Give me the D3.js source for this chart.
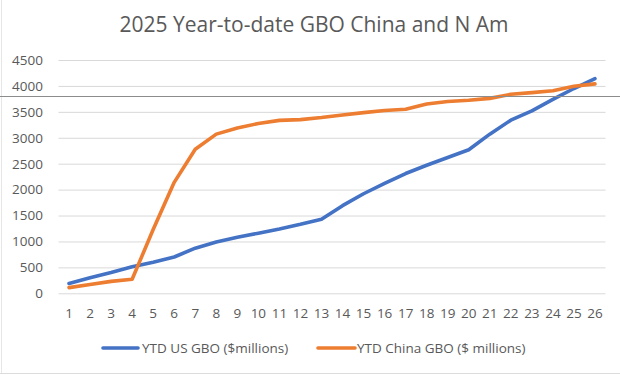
<!DOCTYPE html>
<html>
<head>
<meta charset="utf-8">
<script src="https://cdn.jsdelivr.net/npm/d3@7"></script>
<style>
  body { margin: 0; background: #fff; }
  text { font-family: "Open Sans", sans-serif; fill: #595959; }
</style>
</head>
<body>
<div id="chart"></div>
<script>
var svgWidth = 620;
var svgHeight = 375;

// chart data
var weeks = d3.range(1, 27);
var usGbo = [190, 300, 400, 510, 600, 700, 870, 990, 1080, 1160, 1240, 1330, 1430,
  1690, 1920, 2120, 2310, 2470, 2620, 2770, 3070, 3340, 3520, 3740, 3950, 4140];
var chinaGbo = [110, 170, 230, 270, 1230, 2140, 2780, 3070, 3190, 3275, 3335, 3350, 3390,
  3440, 3485, 3525, 3550, 3650, 3700, 3725, 3760, 3838, 3870, 3908, 3995, 4040];
var yTicks = [0, 500, 1000, 1500, 2000, 2500, 3000, 3500, 4000, 4500];
var seriesNames = ["YTD US GBO ($millions)", "YTD China GBO ($ millions)"];
var colors = ["#4472C4", "#ED7D31"];

var plot = { left: 58.5, right: 605.5, top: 60, bottom: 293.3 };

var svg = d3.select("#chart")
  .append("svg")
  .attr("width", svgWidth)
  .attr("height", svgHeight);

// faint frame edges
svg.append("line")
  .attr("x1", 1.5).attr("x2", 1.5).attr("y1", 0).attr("y2", 373)
  .attr("stroke", "#e6e6e6");
svg.append("line")
  .attr("x1", 0).attr("x2", svgWidth).attr("y1", 373.5).attr("y2", 373.5)
  .attr("stroke", "#dcdcdc");

var xScale = d3.scaleBand()
  .domain(weeks)
  .range([plot.left, plot.right]);

var yScale = d3.scaleLinear()
  .domain([0, 4500])
  .range([plot.bottom, plot.top]);

// y axis with gridlines
var yAxis = svg.append("g")
  .attr("transform", `translate(${plot.left}, 0)`)
  .call(d3.axisLeft(yScale)
    .tickValues(yTicks)
    .tickFormat(d3.format("d"))
    .tickSize(-(plot.right - plot.left))
    .tickPadding(15.5));
yAxis.select(".domain").remove();
yAxis.selectAll("line").attr("stroke", "#d9d9d9");
yAxis.selectAll("text")
  .style("font-size", "13.5px")
  .attr("fill", "#595959");

// x axis labels only
var xAxis = svg.append("g")
  .attr("transform", `translate(0, ${plot.bottom})`)
  .call(d3.axisBottom(xScale).tickSize(0).tickPadding(15));
xAxis.select(".domain").remove();
xAxis.selectAll("text")
  .style("font-size", "13.5px")
  .attr("fill", "#595959");

// the lines
var line = d3.line()
  .x((d, i) => xScale(weeks[i]) + xScale.bandwidth() / 2)
  .y(d => yScale(d));

[usGbo, chinaGbo].forEach(function(values, i) {
  svg.append("path")
    .datum(values)
    .attr("d", line)
    .attr("fill", "none")
    .attr("stroke", colors[i])
    .attr("stroke-width", 3.6)
    .attr("stroke-linejoin", "round")
    .attr("stroke-linecap", "round");
});

// stray horizontal rule across the whole picture
svg.append("line")
  .attr("x1", 0).attr("x2", svgWidth)
  .attr("y1", 96.5).attr("y2", 96.5)
  .attr("stroke", "#8c8c8c")
  .attr("stroke-width", 1);

// title
svg.append("text")
  .attr("x", 314)
  .attr("y", 32)
  .attr("text-anchor", "middle")
  .style("font-size", "21px")
  .text("2025 Year-to-date GBO China and N Am");

// legend
var legendItems = [
  { x1: 103, x2: 138, tx: 142 },
  { x1: 318, x2: 355, tx: 357 }
];
var legend = svg.append("g");
legendItems.forEach(function(item, i) {
  legend.append("line")
    .attr("x1", item.x1).attr("x2", item.x2)
    .attr("y1", 348).attr("y2", 348)
    .attr("stroke", colors[i])
    .attr("stroke-width", 3.6)
    .attr("stroke-linecap", "round");
  legend.append("text")
    .attr("x", item.tx)
    .attr("y", 348)
    .attr("dy", "0.35em")
    .style("font-size", "13.5px")
    .text(seriesNames[i]);
});
</script>
</body>
</html>
